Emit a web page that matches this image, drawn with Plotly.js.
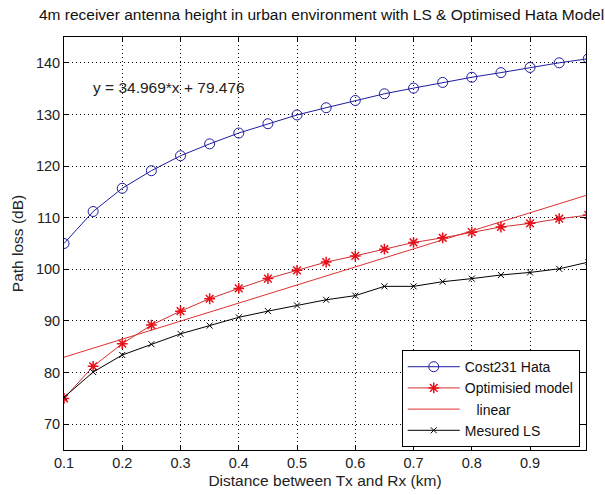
<!DOCTYPE html>
<html>
<head>
<meta charset="utf-8">
<script src="https://cdn.plot.ly/plotly-3.0.1.min.js"></script>
<style>html,body{margin:0;padding:0;background:#fff;}#chart{width:605px;height:495px;}</style>
</head>
<body>
<div id="chart"></div>
<script>
// Data
const distanceKm = [0.1,0.15,0.2,0.25,0.3,0.35,0.4,0.45,0.5,0.55,0.6,0.65,0.7,0.75,0.8,0.85,0.9,0.95,1.0];
const cost231Hata = [105.0,111.2,115.7,119.1,122.0,124.3,126.4,128.2,129.9,131.3,132.7,134.0,135.1,136.2,137.2,138.1,139.1,140.0,140.8];
const optimisedModel = [75.0,81.2,85.6,89.2,91.9,94.3,96.3,98.2,99.8,101.4,102.6,103.9,105.2,106.1,107.2,108.2,108.9,109.8,110.5];
const measuredLS = [75.2,80.1,83.4,85.5,87.5,89.1,90.7,91.9,93.0,94.1,94.9,96.7,96.7,97.6,98.2,98.9,99.4,100.1,101.4];
const linearX = [0.1, 1.0];
const linearY = [82.97, 114.45];
const xTicks = [0.1,0.2,0.3,0.4,0.5,0.6,0.7,0.8,0.9];
const yTicks = [70,80,90,100,110,120,130,140];
const seriesNames = ["Cost231 Hata", "Optimisied model", "\u00a0\u00a0\u00a0linear", "Mesured LS"];
const titleText = "4m receiver antenna height in urban environment with LS &amp; Optimised Hata Model";
const equationText = "y = 34.969*x + 79.476";
const equationPos = {x: 0.146, y: 135.3};

const FONT = "Liberation Sans, Arial, Helvetica, sans-serif";

const traces = [
  {x: distanceKm, y: cost231Hata, name: seriesNames[0], mode: "lines+markers",
   line: {color: "#1c1ca0", width: 1},
   marker: {symbol: "circle-open", size: 10, color: "#1c1ca0", line: {width: 1, color: "#1c1ca0"}}},
  {x: distanceKm, y: optimisedModel, name: seriesNames[1], mode: "lines+markers",
   line: {color: "#d03030", width: 1},
   marker: {symbol: "asterisk-open", size: 9, color: "#e8101a", line: {width: 1.5, color: "#e8101a"}}},
  {x: linearX, y: linearY, name: seriesNames[2], mode: "lines",
   line: {color: "#e03030", width: 1}},
  {x: distanceKm, y: measuredLS, name: seriesNames[3], mode: "lines+markers",
   line: {color: "#000000", width: 1},
   marker: {symbol: "x-thin-open", size: 6, color: "#000", line: {width: 1, color: "#000"}}}
];

const axisCommon = {
  showline: true, linecolor: "#000", linewidth: 1, mirror: "ticks",
  ticks: "inside", ticklen: 5, tickcolor: "#000",
  showgrid: true, gridcolor: "#000", gridwidth: 1, griddash: "1px,3px",
  zeroline: false,
  tickfont: {family: FONT, size: 14.5, color: "#222"}
};

const layout = {
  width: 605, height: 495,
  paper_bgcolor: "#fff", plot_bgcolor: "#fff",
  margin: {l: 64, r: 19, t: 37, b: 45},
  title: {text: titleText, x: 321.5/605, xref: "container", xanchor: "center",
          y: 1 - 15/495, yref: "container", yanchor: "middle",
          font: {family: FONT, size: 15.5, color: "#111"}},
  xaxis: Object.assign({}, axisCommon, {
    range: [0.1, 0.996], tickvals: xTicks, ticktext: xTicks.map(v => v.toFixed(1)),
    title: {text: "Distance between Tx and Rx (km)", standoff: 4,
            font: {family: FONT, size: 15.5, color: "#222"}}
  }),
  yaxis: Object.assign({}, axisCommon, {
    range: [65, 145], tickvals: yTicks, ticktext: yTicks.map(String),
    title: {text: "Path loss (dB)", standoff: 8,
            font: {family: FONT, size: 15.5, color: "#222"}}
  }),
  legend: {x: 0.988, xanchor: "right", y: 0.007, yanchor: "bottom",
           bgcolor: "#fff", bordercolor: "#000", borderwidth: 1, itemwidth: 52,
           font: {family: FONT, size: 14, color: "#111"}, tracegroupgap: 0},
  annotations: [{x: equationPos.x, y: equationPos.y, xref: "x", yref: "y",
                 text: equationText, showarrow: false, xanchor: "left", yanchor: "middle",
                 font: {family: FONT, size: 15.5, color: "#222"}}],
  showlegend: true
};

Plotly.newPlot("chart", traces, layout, {staticPlot: true, displayModeBar: false});
</script>
</body>
</html>
